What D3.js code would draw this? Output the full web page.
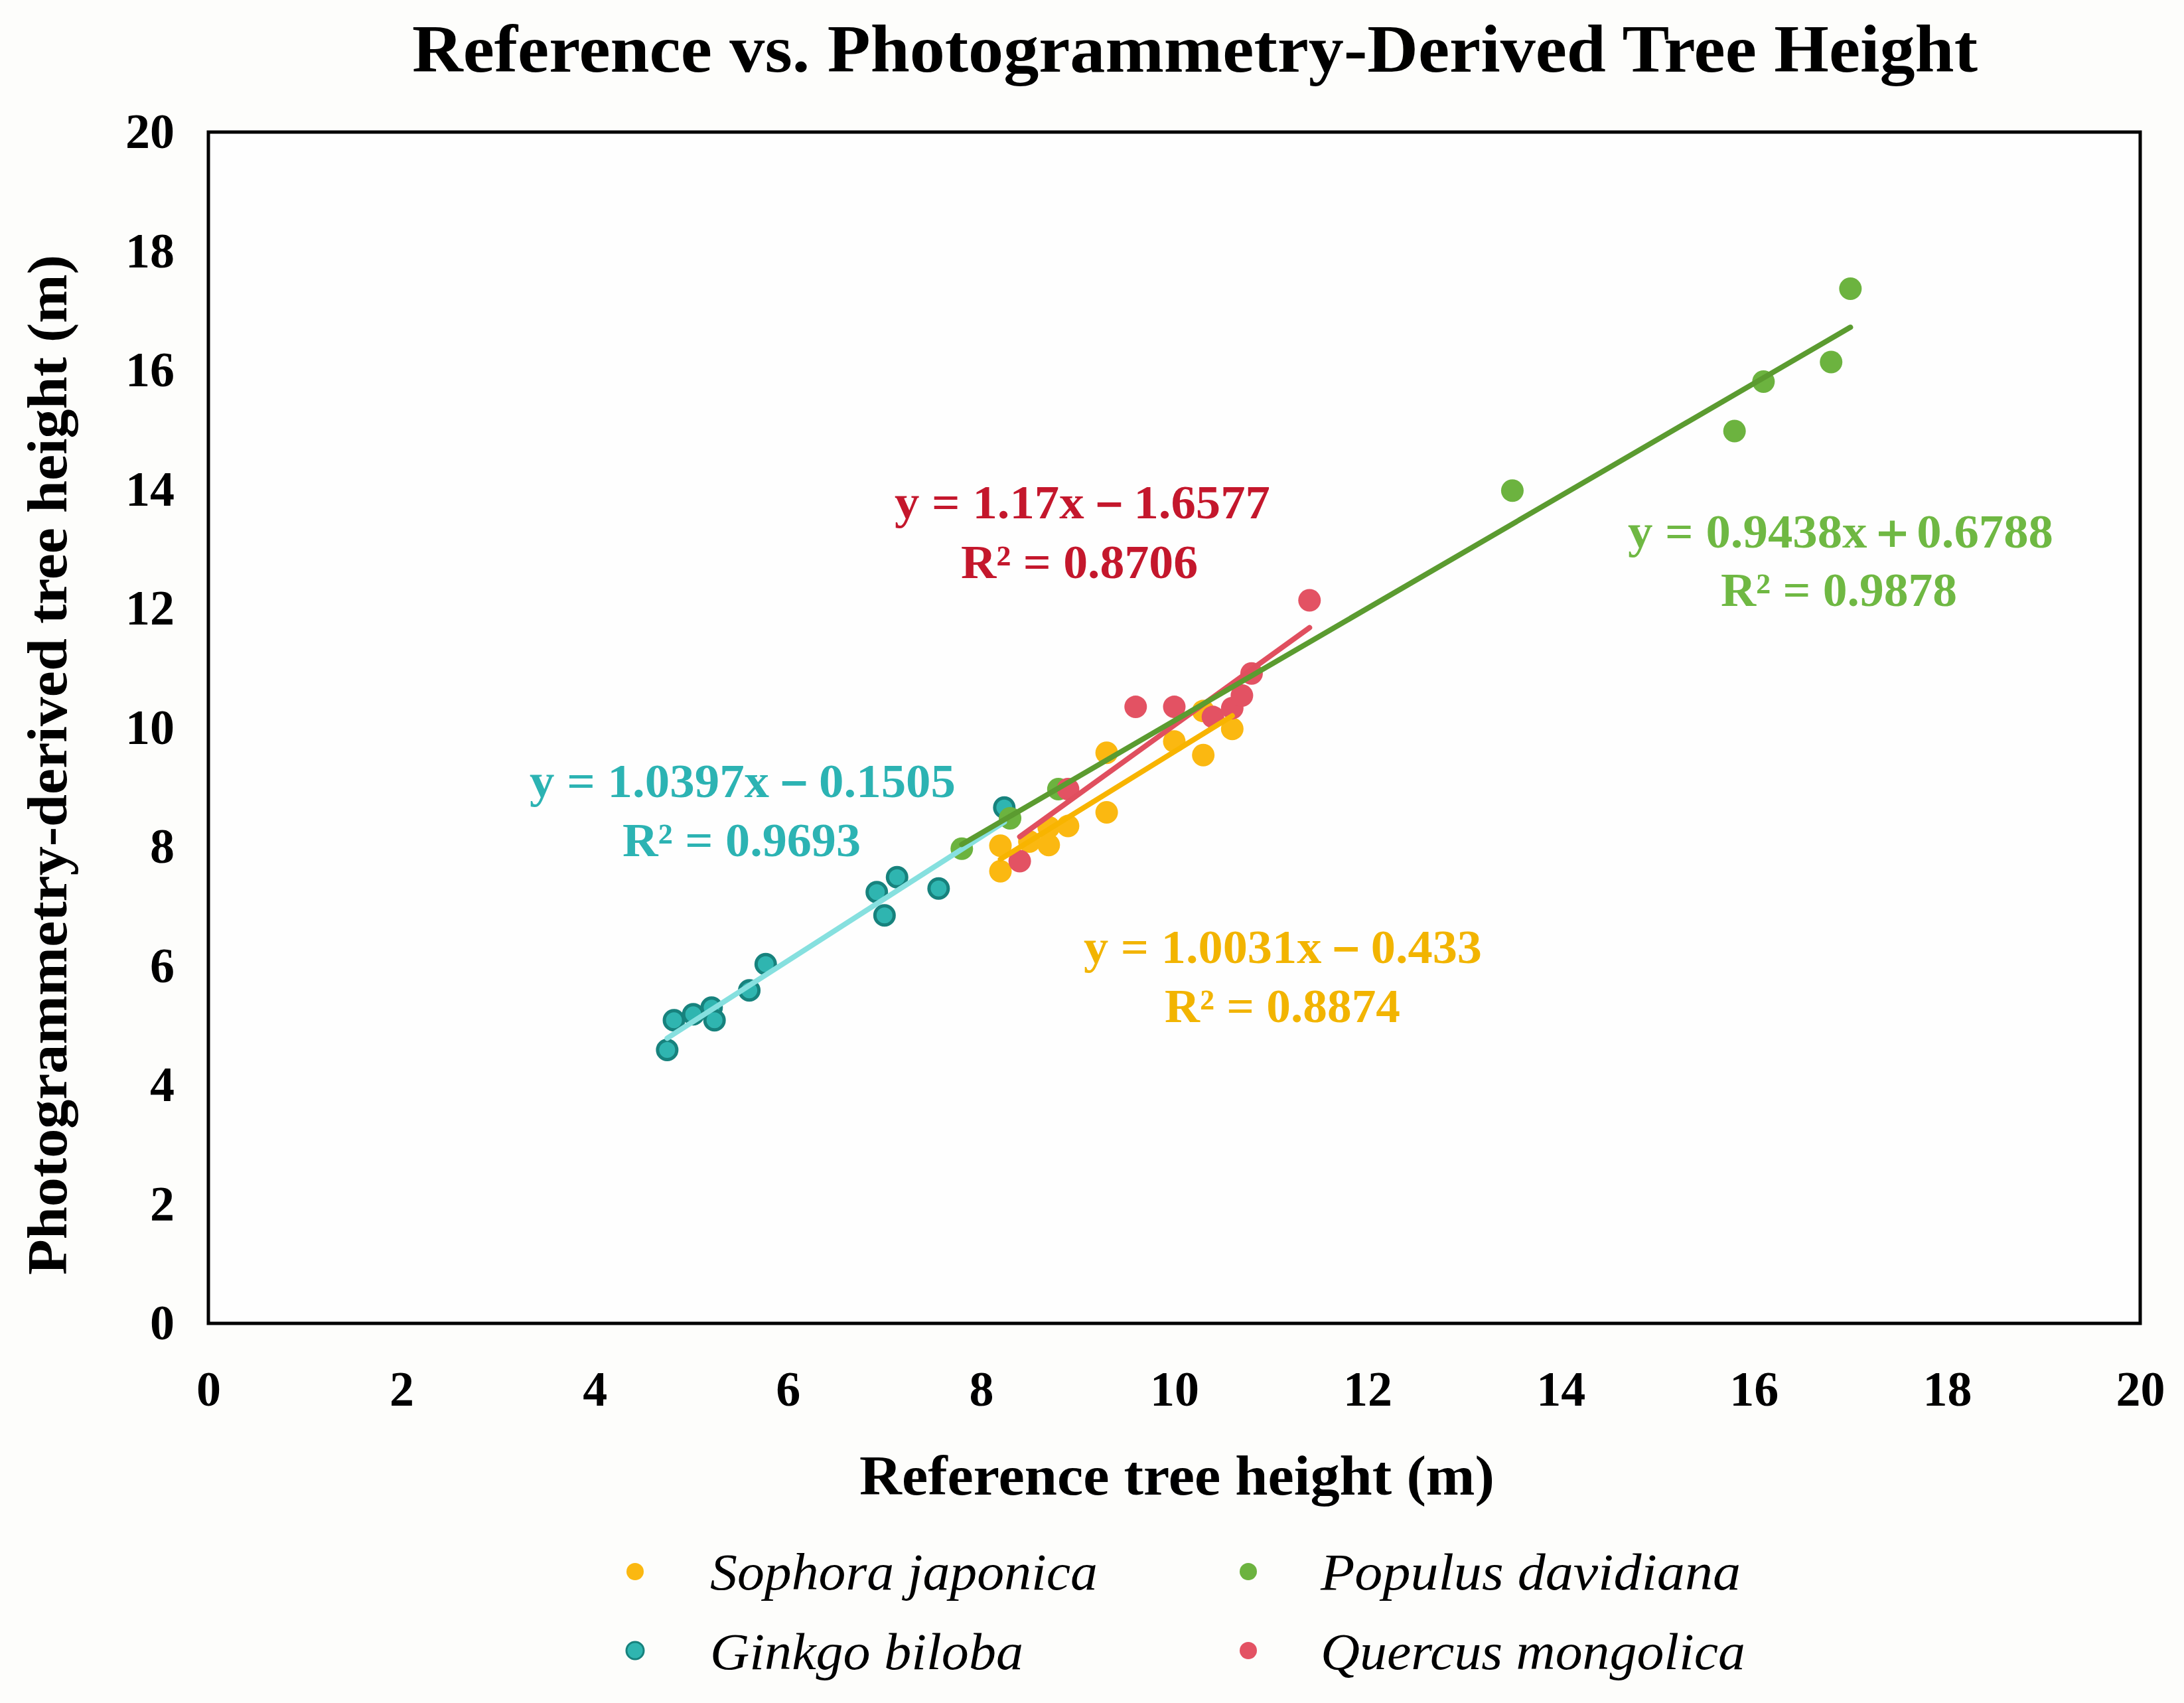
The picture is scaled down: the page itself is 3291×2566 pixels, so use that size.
<!DOCTYPE html>
<html>
<head>
<meta charset="utf-8">
<script src="https://cdn.jsdelivr.net/npm/d3@7"></script>
<style>
html,body{margin:0;padding:0;background:#fdfdfb;}
svg{display:block;}
text{font-family:"Liberation Serif","DejaVu Serif",serif;}
</style>
</head>
<body>
<svg id="chart" width="3291" height="2566"></svg>
<script>
// ---- Data ----
const xTicks = [0, 2, 4, 6, 8, 10, 12, 14, 16, 18, 20];
const yTicks = [0, 2, 4, 6, 8, 10, 12, 14, 16, 18, 20];

const speciesNames = ["Sophora japonica", "Populus davidiana", "Ginkgo biloba", "Quercus mongolica"];

const sophoraX = [8.2, 8.2, 8.5, 8.7, 8.7, 8.9, 9.3, 9.3, 10.0, 10.3, 10.3, 10.6];
const sophoraY = [8.02, 7.59, 8.09, 8.03, 8.33, 8.35, 8.58, 9.58, 9.77, 9.54, 10.28, 9.98];

const ginkgoX = [4.75, 4.82, 5.02, 5.21, 5.24, 5.60, 5.77, 6.92, 7.00, 7.13, 7.56, 8.24];
const ginkgoY = [4.59, 5.09, 5.19, 5.30, 5.09, 5.59, 6.03, 7.24, 6.85, 7.49, 7.30, 8.66];

const populusX = [7.8, 8.3, 8.8, 13.5, 15.8, 16.1, 16.8, 17.0];
const populusY = [7.97, 8.48, 8.97, 13.98, 14.98, 15.81, 16.14, 17.37];

const quercusX = [8.4, 8.9, 9.6, 10.0, 10.4, 10.6, 10.7, 10.8, 11.4];
const quercusY = [7.76, 8.97, 10.35, 10.35, 10.18, 10.33, 10.54, 10.91, 12.14];

// fitted trend lines: slope, intercept
const fitSlope = { sophora: 1.0031, ginkgo: 1.0397, populus: 0.9438, quercus: 1.17 };
const fitIntercept = { sophora: -0.433, ginkgo: -0.1505, populus: 0.6788, quercus: -1.6577 };

const eqLine1 = {
  quercus: "y = 1.17x\uFF0D1.6577",
  populus: "y = 0.9438x\uFF0B0.6788",
  ginkgo: "y = 1.0397x\uFF0D0.1505",
  sophora: "y = 1.0031x\uFF0D0.433"
};
const eqLine2 = {
  quercus: "R\u00B2 = 0.8706",
  populus: "R\u00B2 = 0.9878",
  ginkgo: "R\u00B2 = 0.9693",
  sophora: "R\u00B2 = 0.8874"
};

// ---- Styles ----
const colors = {
  sophora: { point: "#fbb811", line: "#f8b400", text: "#f2b400" },
  ginkgo:  { point: "#2fb5b0", stroke: "#17827d", line: "#86e0df", text: "#2cb3b3" },
  populus: { point: "#6cb33f", line: "#5b9b30", text: "#6fb843" },
  quercus: { point: "#e35263", line: "#e04f5f", text: "#c4172c" }
};

const W = 3291, H = 2566;
const plot = { left: 314, right: 3225, top: 199, bottom: 1994 };

const svg = d3.select("#chart");
svg.append("rect").attr("width", W).attr("height", H).attr("fill", "#fdfdfb");
svg.append("rect").attr("x", plot.left).attr("y", plot.top)
  .attr("width", plot.right - plot.left).attr("height", plot.bottom - plot.top)
  .attr("fill", "#fefefe");

const x = d3.scaleLinear().domain([0, 20]).range([plot.left, plot.right]);
const y = d3.scaleLinear().domain([0, 20]).range([plot.bottom, plot.top]);

// Axes
const gx = svg.append("g").attr("transform", `translate(0,${plot.bottom})`)
  .call(d3.axisBottom(x).tickValues(xTicks).tickSize(0).tickPadding(71));
gx.select(".domain").remove();
gx.selectAll("text").attr("font-size", 74).attr("font-weight", "bold")
  .attr("font-family", "Liberation Serif, serif").attr("fill", "#000");

const gy = svg.append("g").attr("transform", `translate(${plot.left},0)`)
  .call(d3.axisLeft(y).tickValues(yTicks).tickSize(0).tickPadding(51));
gy.select(".domain").remove();
gy.selectAll("text").attr("font-size", 74).attr("font-weight", "bold")
  .attr("font-family", "Liberation Serif, serif").attr("fill", "#000");

// Series
function pts(xs, ys) { return xs.map((v, i) => ({ x: v, y: ys[i] })); }
const series = [
  { key: "sophora", data: pts(sophoraX, sophoraY) },
  { key: "ginkgo", data: pts(ginkgoX, ginkgoY) },
  { key: "populus", data: pts(populusX, populusY) },
  { key: "quercus", data: pts(quercusX, quercusY) }
];

const R = 17;
series.forEach(s => {
  const c = colors[s.key];
  svg.append("g").selectAll("circle").data(s.data).join("circle")
    .attr("cx", d => x(d.x)).attr("cy", d => y(d.y))
    .attr("r", s.key === "ginkgo" ? 14.5 : R)
    .attr("fill", c.point)
    .attr("stroke", c.stroke || "none")
    .attr("stroke-width", c.stroke ? 5 : 0);
});

// Trend lines
const lineOrder = ["ginkgo", "sophora", "quercus", "populus"];
const xsByKey = { sophora: sophoraX, ginkgo: ginkgoX, populus: populusX, quercus: quercusX };
const lineGen = d3.line().x(d => x(d[0])).y(d => y(d[1]));
lineOrder.forEach(k => {
  const ext = d3.extent(xsByKey[k]);
  const seg = ext.map(v => [v, fitSlope[k] * v + fitIntercept[k]]);
  svg.append("path").attr("d", lineGen(seg))
    .attr("stroke", colors[k].line).attr("stroke-width", 8)
    .attr("stroke-linecap", "round").attr("fill", "none");
});

// Frame
svg.append("rect").attr("x", plot.left).attr("y", plot.top)
  .attr("width", plot.right - plot.left).attr("height", plot.bottom - plot.top)
  .attr("fill", "none").attr("stroke", "#000").attr("stroke-width", 5);

// Equation labels (positions in pixels)
const eqPos = {
  quercus: { l1: [1348, 781, 566], l2: [1448, 871, 357] },
  populus: { l1: [2453, 825, 641], l2: [2593, 913, 356] },
  ginkgo:  { l1: [798, 1201, 642],  l2: [938, 1290, 359] },
  sophora: { l1: [1633, 1451, 600], l2: [1755, 1540, 355] }
};
Object.keys(eqPos).forEach(k => {
  const p = eqPos[k];
  [[eqLine1[k], p.l1], [eqLine2[k], p.l2]].forEach(([t, pos]) => {
    svg.append("text").attr("x", pos[0]).attr("y", pos[1])
      .attr("font-size", 72).attr("font-weight", "bold")
      .attr("fill", colors[k].text)
      .attr("textLength", pos[2]).attr("lengthAdjust", "spacingAndGlyphs")
      .text(t);
  });
});

// Title
svg.append("text").attr("x", 621).attr("y", 108)
  .attr("font-size", 102).attr("font-weight", "bold").attr("fill", "#000")
  .attr("textLength", 2359).attr("lengthAdjust", "spacingAndGlyphs")
  .text("Reference vs. Photogrammetry-Derived Tree Height");

// Axis titles
svg.append("text").attr("x", 1295).attr("y", 2252)
  .attr("font-size", 84).attr("font-weight", "bold").attr("fill", "#000")
  .attr("textLength", 957).attr("lengthAdjust", "spacingAndGlyphs")
  .text("Reference tree height (m)");

svg.append("text")
  .attr("transform", "translate(100,1921) rotate(-90)")
  .attr("font-size", 84).attr("font-weight", "bold").attr("fill", "#000")
  .attr("textLength", 1537).attr("lengthAdjust", "spacingAndGlyphs")
  .text("Photogrammetry-derived tree height (m)");

// Legend
const legendItems = [
  { name: speciesNames[0], key: "sophora", mx: 957, my: 2368, tx: 1070, ty: 2395, w: 584 },
  { name: speciesNames[1], key: "populus", mx: 1881, my: 2368, tx: 1990, ty: 2395, w: 633 },
  { name: speciesNames[2], key: "ginkgo", mx: 957, my: 2487, tx: 1070, ty: 2515, w: 472 },
  { name: speciesNames[3], key: "quercus", mx: 1881, my: 2487, tx: 1990, ty: 2515, w: 640 }
];
const lg = svg.append("g");
legendItems.forEach(d => {
  const c = colors[d.key];
  lg.append("circle").attr("cx", d.mx).attr("cy", d.my).attr("r", 13)
    .attr("fill", c.point).attr("stroke", c.stroke || "none").attr("stroke-width", c.stroke ? 3 : 0);
  lg.append("text").attr("x", d.tx).attr("y", d.ty)
    .attr("font-size", 78).attr("font-style", "italic").attr("fill", "#000")
    .attr("textLength", d.w).attr("lengthAdjust", "spacingAndGlyphs")
    .text(d.name);
});
</script>
</body>
</html>
